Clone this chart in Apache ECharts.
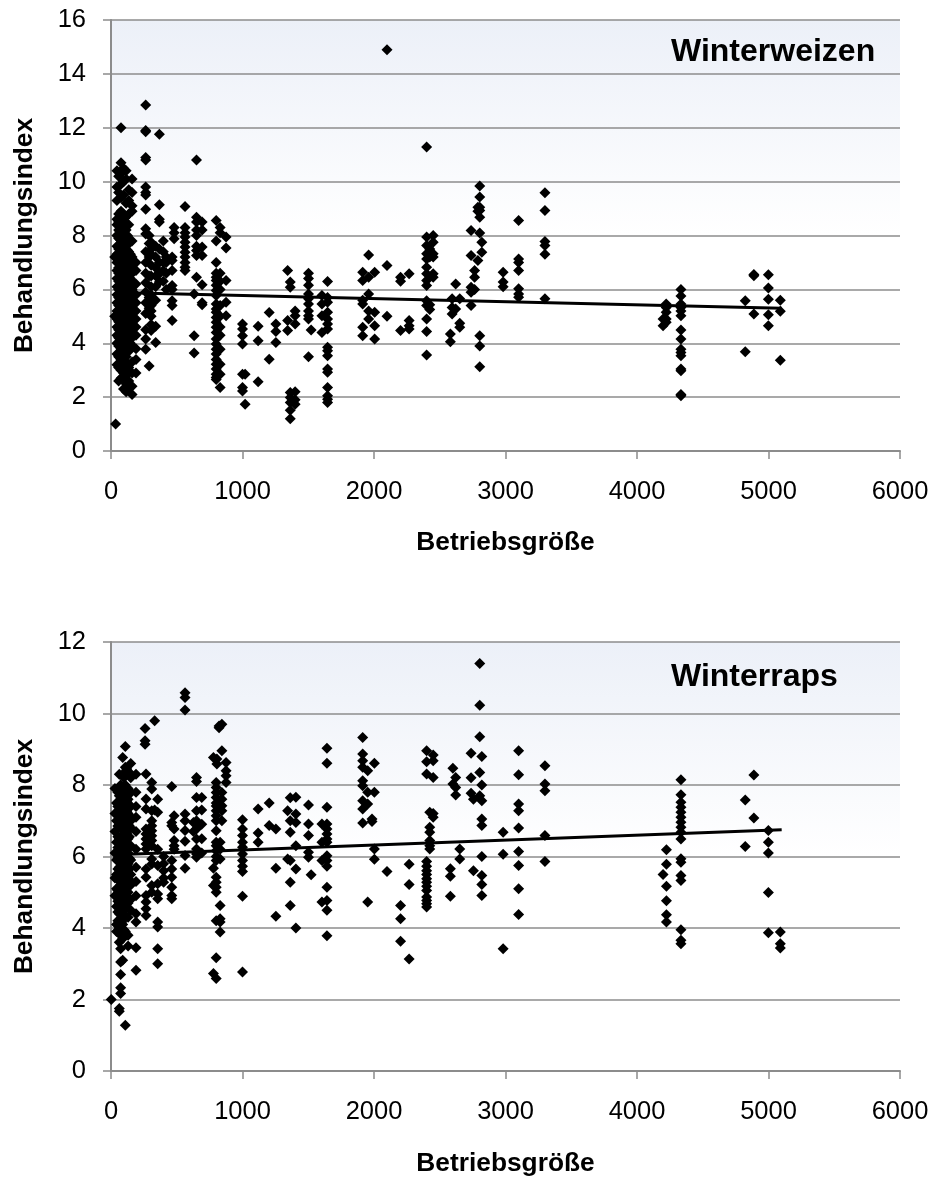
<!DOCTYPE html>
<html><head><meta charset="utf-8">
<script src="https://cdn.jsdelivr.net/npm/echarts@6/dist/echarts.min.js"></script>
<style>html,body{margin:0;background:#fff}#c{width:933px;height:1178px}</style></head>
<body><div id="c"></div>
<script>
const xTicks = [0,1000,2000,3000,4000,5000,6000];
const weizenTrend = [[40,5.88],[5100,5.3]];
const rapsTrend = [[30,6.05],[5100,6.75]];
const weizenSpalten = [
[35,[1.0]],
[28,[7.2,5.0]],
[45,[10.4,9.8,9.3,8.6,8.4,8.0,7.6,7.3,7.0,6.7,6.4,6.1,5.8,5.5,5.2,4.9,4.6,4.3,4.0,3.6,3.2]],
[58,[10.2,9.6,8.8,8.5,8.2,7.9,7.5,7.1,6.8,6.6,6.3,6.0,5.7,5.4,5.1,4.8,4.5,4.2,3.9,3.5,3.1,2.6]],
[68,[8.6,8.15,7.85,7.55,7.25,6.95,6.65,6.35,6.05,5.75,5.45,5.15,4.85,4.55,4.25,3.95,3.65,3.25]],
[76,[12.0,10.7,10.3,9.9,9.4,8.9,8.7,8.3,8.0,7.7,7.4,7.1,6.8,6.5,6.2,5.9,5.6,5.3,5.0,4.7,4.4,4.1,3.8,3.4,3.0,2.7]],
[85,[8.75,8.35,8.05,7.65,7.35,7.05,6.75,6.45,6.15,5.85,5.55,5.25,4.95,4.65,4.35,4.05,3.75,3.45,3.1]],
[95,[10.5,10.0,9.5,8.8,8.5,8.1,7.8,7.5,7.2,6.9,6.6,6.3,6.0,5.7,5.4,5.1,4.8,4.5,4.2,3.9,3.6,3.3,2.9,2.3]],
[105,[8.65,8.3,7.95,7.65,7.35,7.05,6.75,6.45,6.15,5.85,5.55,5.25,4.95,4.65,4.35,4.05,3.35,3.0,2.6]],
[115,[10.4,10.1,9.2,8.7,8.2,7.9,7.6,7.3,7.0,6.7,6.4,6.1,5.8,5.5,5.2,4.9,4.6,4.3,4.0,3.5,3.2,2.8,2.5,2.2]],
[125,[8.0,7.75,7.45,7.15,6.85,6.55,6.25,5.95,5.65,5.35,5.05,4.75,4.45,4.15,3.85,3.0,2.4]],
[135,[9.7,9.3,8.8,8.4,7.7,7.4,7.1,6.8,6.5,6.2,5.9,5.6,5.3,5.0,4.7,4.4,4.1,3.7,3.1,2.6,2.3]],
[148,[7.3,7.0,6.7,6.4,6.1,5.8,5.5,5.2,4.9,4.6,4.3,4.0]],
[160,[10.1,9.6,9.1,8.9,7.8,7.2,6.9,6.6,6.3,6.0,5.7,5.4,5.1,4.8,4.5,4.2,3.9,3.3,2.9,2.4,2.1]],
[190,[7.0,6.7,6.2,5.8,5.5,5.2,4.9,4.6,4.3,3.8,3.4,2.9]],
[264,[12.84,11.9,11.85,10.9,10.8,9.8,9.6,9.5,8.97,8.25,8.06,7.4,7.0,6.6,6.25,5.9,5.5,5.1,4.5,4.16,3.78]],
[290,[3.16,8.0,7.7,7.2,6.5,5.7,5.3]],
[305,[7.75,7.5,7.3,6.9,6.5,6.1,5.8,5.4,5.2,5.0,4.7,4.47]],
[340,[7.6,7.2,6.8,6.5,6.1,5.6,4.63,4.03]],
[368,[11.76,9.14,8.6,8.5,7.5,6.58,6.27,7.0]],
[398,[7.8,7.4,7.0,6.7,6.3]],
[420,[7.0,7.2,6.6,6.0]],
[465,[7.2,7.07,6.7,6.14,6.0,5.58,5.4,4.84]],
[480,[8.3,8.1,7.88]],
[563,[9.08,8.3,8.1,7.94,7.75,7.57,7.38,7.2,7.0,6.82,6.7]],
[632,[5.83,4.28,3.64]],
[650,[10.8,8.68,8.5,8.2,8.0,7.6,7.44,7.26,6.45]],
[693,[8.5,8.2,7.57,7.26,6.17,5.5,5.43]],
[800,[8.56,7.8,7.0,6.6,6.45,6.33,6.15,5.96,5.77,5.46,5.27,5.15,4.96,4.78,4.59,4.4,4.16,3.97,3.78,3.6,3.4,3.22,3.04,2.85,2.73,2.65]],
[830,[8.3,8.1,6.6,6.3,6.0,5.4,5.0,4.6,4.3,3.78,3.22,2.85,2.36]],
[875,[7.94,7.54,6.33,5.52,5.02]],
[1000,[4.71,4.53,4.28,3.97,2.85,2.36,2.23]],
[1020,[2.85,1.74]],
[1119,[4.63,4.09,2.57]],
[1203,[5.14,3.41]],
[1254,[4.71,4.44,4.03]],
[1343,[6.7,4.84,4.47]],
[1363,[6.27,6.08,2.17,1.99,1.8,1.51,1.2]],
[1400,[5.2,5.02,4.71,2.2,1.9,1.74]],
[1502,[6.6,6.4,6.15,5.83,5.65,5.46,5.2,5.02,4.9,3.5]],
[1522,[4.49]],
[1604,[5.77,5.46,5.02,4.4]],
[1647,[6.29,5.7,5.52,5.15,4.9,4.71,4.53,3.85,3.72,3.54,3.04,2.92,2.36,2.05,1.92,1.8]],
[1914,[6.64,6.33,5.6,5.46,4.59,4.28]],
[1959,[7.28,6.45,5.83,5.2,4.9]],
[2005,[6.64,5.15,4.65,4.16]],
[2099,[14.9,6.89,5.0]],
[2202,[6.45,6.3,4.47]],
[2267,[6.58,4.84,4.65,4.53]],
[2400,[11.29,7.94,7.63,7.32,7.13,6.82,6.58,6.33,6.14,5.58,5.4,4.9,4.44,3.56]],
[2424,[7.5,7.2,5.43,5.25]],
[2450,[8.0,7.75,7.32,7.2,6.58,6.45]],
[2581,[4.34,4.06]],
[2594,[5.65,5.33,5.09]],
[2621,[6.2,5.27]],
[2652,[5.65,4.74,4.59]],
[2738,[8.19,7.26,6.08,5.89,5.4]],
[2765,[6.7,6.45,6.0]],
[2790,[9.05,8.9,7.07]],
[2804,[9.84,9.43,9.05,8.93,8.68,8.09,4.28,3.9,3.13]],
[2820,[7.75,7.38]],
[2982,[6.64,6.27,6.1]],
[3100,[8.56,7.13,7.0,6.7,6.02,5.83,5.71]],
[3300,[9.59,8.93,7.78,7.63,7.3,5.65]],
[4198,[4.65,4.9]],
[4222,[5.46,5.33,5.15,4.9,4.78]],
[4334,[6.0,5.75,5.46,5.33,5.2,5.02,4.49,4.16,3.78,3.66,3.54,3.04,2.98,2.1,2.05]],
[4823,[5.58,3.68]],
[4889,[6.51,6.55,5.09]],
[4999,[6.54,6.05,5.63,5.06,4.65]],
[5090,[5.6,5.19,3.37]]
];
const rapsSpalten = [
[2,[2.0]],
[30,[7.9,7.2,6.7,6.1,5.4,4.9]],
[42,[7.5,7.0,6.4,5.9,5.5,5.1,4.6,4.1,3.9]],
[52,[7.8,7.4,7.15,6.85,6.55,6.25,5.95,5.65,5.35,5.05,4.75,4.45,4.2]],
[63,[8.3,7.7,7.3,6.9,6.5,6.1,5.7,5.4,5.0,4.7,4.4,4.0,3.6,1.75,1.67]],
[73,[8.0,7.6,7.1,6.8,6.3,5.9,5.6,5.2,4.9,4.5,4.2,3.8,3.42,3.05,2.7,2.33,2.17]],
[80,[7.85,7.45,7.15,6.85,6.55,6.25,5.95,5.65,5.35,5.05,4.75,4.45,4.15,3.85]],
[89,[8.77,8.3,7.5,7.2,6.9,6.6,6.2,5.8,5.5,5.1,4.8,4.4,4.1,3.7,3.1]],
[98,[8.2,7.85,7.55,7.25,6.95,6.65,6.35,6.05,5.75,5.45,5.15,4.85,4.55,4.25,3.95]],
[109,[9.08,8.5,8.0,7.7,7.4,7.0,6.7,6.4,6.0,5.6,5.3,4.9,4.6,4.3,3.9,1.28]],
[120,[8.45,7.85,7.55,7.25,6.95,6.65,6.35,6.05,5.75,5.45,5.15,4.85,4.55]],
[130,[8.3,7.9,7.6,7.2,6.9,6.5,6.1,5.8,5.4,5.0,4.7,4.3,3.8,3.5]],
[140,[8.35,7.75,7.45,7.15,6.85,6.55,6.25,5.95,5.65,5.35]],
[150,[8.6,8.2,7.8,7.4,7.0,6.8,6.3,5.9,5.5,5.2,4.8,4.5]],
[190,[8.3,7.8,7.4,7.1,6.7,6.2,5.7,5.3,4.9,4.4,4.17,3.45,2.82]],
[259,[9.58,9.24,9.14]],
[266,[8.31,7.61,7.33,6.77,6.63,6.49,6.35,6.21,5.65,5.42,4.91,4.73,4.54,4.35]],
[310,[8.07,7.89,7.28,7.0,6.86,6.72,6.58,6.45,6.3,5.93,5.79,5.19,5.0]],
[332,[9.8,7.3]],
[355,[7.6,7.24,6.2,5.75,5.24,4.95,4.82,4.17,4.03,3.42,3.0]],
[400,[6.0,5.8,5.6,5.4,5.28]],
[462,[7.96,6.95,6.86,5.89,5.65,5.42,5.14,4.91,4.82]],
[480,[7.14,6.77,6.45,6.3,6.2]],
[563,[10.58,10.45,10.1,7.19,7.0,6.73,6.43,6.03,5.67]],
[627,[6.95,6.7]],
[650,[8.21,8.1,7.65,7.28,7.0,6.77,6.49,6.21,6.07,5.98]],
[690,[7.65,7.3,6.9,6.5,6.1]],
[779,[8.77,5.67,5.19,2.73]],
[800,[8.07,7.93,7.79,7.65,7.5,7.41,7.28,7.14,7.0,6.72,6.4,6.3,6.16,6.0,5.89,5.42,5.28,5.14,5.0,4.2,3.17,2.59]],
[805,[8.73,8.59]],
[822,[9.6,9.65]],
[830,[6.4,6.2,5.93,4.63,4.26,4.17,3.89]],
[843,[9.7,8.96,7.79,7.6,7.42,7.28,7.0]],
[875,[8.63,8.4,8.26,8.07]],
[1000,[7.03,6.77,6.59,6.4,6.26,6.07,5.89,5.73,5.58,4.89,2.77]],
[1119,[7.33,6.66,6.4]],
[1203,[7.5,6.87]],
[1254,[6.77,5.67,4.33]],
[1343,[7.28,5.93]],
[1363,[7.64,7.0,6.68,5.89,5.28,4.63]],
[1406,[7.66,7.19,6.95,6.3,5.65,4.0]],
[1502,[7.44,6.91,6.59,6.12,5.98]],
[1522,[5.49]],
[1604,[6.91,6.4,5.89,4.73]],
[1642,[9.03,8.61,7.38,6.91,6.77,6.63,6.49,6.4,6.02,5.89,5.73,5.14,4.77,4.5,3.78]],
[1914,[9.33,8.87,8.68,8.5,8.12,7.98,7.56,7.33,6.94]],
[1952,[8.4,7.8,7.47,4.73]],
[1985,[7.05,6.98]],
[2003,[8.61,7.8,6.21,5.92]],
[2099,[5.58]],
[2202,[4.63,4.26,3.63]],
[2267,[5.78,5.22,3.13]],
[2400,[8.96,8.65,8.31,5.86,5.73,5.6,5.5,5.38,5.28,5.17,5.05,4.87,4.77,4.68,4.59]],
[2424,[7.24,6.82,6.68,6.45,6.3,6.21]],
[2450,[7.2,7.1,8.84,8.68,8.21]],
[2581,[5.66,5.45,4.89]],
[2600,[8.47,8.03]],
[2621,[8.21,7.93,7.72]],
[2652,[6.21,5.93]],
[2738,[8.89,8.2,7.77]],
[2756,[7.6,5.6]],
[2804,[11.4,10.23,9.35,8.35,7.7]],
[2820,[8.8,8.0,7.56,7.05,6.87,6.0,5.47,5.22,4.91]],
[2982,[6.68,6.06,3.42]],
[3100,[8.96,8.29,7.47,7.28,6.8,6.14,5.75,5.1,4.38]],
[3300,[8.54,8.03,7.84,6.59,5.86]],
[4198,[5.5]],
[4224,[6.19,5.78,5.17,4.76,4.37,4.17]],
[4334,[8.15,7.73,7.52,7.38,7.24,7.1,6.96,6.82,6.68,6.49,5.94,5.84,5.47,5.33,3.95,3.66,3.56]],
[4823,[7.58,6.28]],
[4889,[8.28,7.08]],
[4999,[6.73,6.4,6.1,4.99,3.87]],
[5090,[3.89,3.56,3.44]]
];
function punkte(spalten){const r=[];spalten.forEach(([x,ys])=>ys.forEach(y=>r.push([x,y])));return r;}
const font='"Liberation Sans",Arial,sans-serif', gray='#8c8c8c';
const bg={type:'linear',x:0,y:0,x2:0,y2:1,colorStops:[{offset:0,color:'#ecf0f8'},{offset:0.5,color:'#ffffff'},{offset:1,color:'#ffffff'}]};
function xAx(i,gap){return {gridIndex:i,type:'value',min:0,max:6000,interval:1000,
  name:'Betriebsgröße',nameLocation:'middle',nameGap:gap,nameTextStyle:{fontFamily:font,fontWeight:'bold',fontSize:26.3,color:'#000'},
  axisLine:{show:true,lineStyle:{color:gray,width:2}},axisTick:{show:true,length:8,lineStyle:{color:gray,width:1.5}},
  axisLabel:{fontFamily:font,fontSize:25.5,color:'#000',margin:28,showMinLabel:true,showMaxLabel:true,formatter:v=>String(xTicks[v/1000])},splitLine:{show:false}};}
function yAx(i,max){return {gridIndex:i,type:'value',min:0,max:max,interval:2,
  name:'Behandlungsindex',nameLocation:'middle',nameGap:73,nameTextStyle:{fontFamily:font,fontWeight:'bold',fontSize:26.3,color:'#000'},
  axisLine:{show:true,onZero:false,lineStyle:{color:gray,width:2}},axisTick:{show:true,length:8,lineStyle:{color:gray,width:1.5}},
  axisLabel:{fontFamily:font,fontSize:25.5,color:'#000',margin:25,showMaxLabel:true},
  splitLine:{show:true,lineStyle:{color:gray,width:1.6}}};}
function scat(i,d){return {type:'scatter',xAxisIndex:i,yAxisIndex:i,data:d,symbol:'diamond',symbolSize:11,itemStyle:{color:'#000',opacity:1},silent:true,animation:false,z:3};}
function trend(i,d){return {type:'line',xAxisIndex:i,yAxisIndex:i,data:d,symbol:'none',lineStyle:{color:'#000',width:3},silent:true,animation:false,z:4};}
const chart=echarts.init(document.getElementById('c'),null,{renderer:'canvas'});
chart.setOption({
  animation:false,backgroundColor:'#fff',
  title:[
   {text:'Winterweizen',left:666,top:31,textStyle:{fontFamily:font,fontWeight:'bold',fontSize:32,color:'#000'}},
   {text:'Winterraps',left:666,top:656,textStyle:{fontFamily:font,fontWeight:'bold',fontSize:32,color:'#000'}}
  ],
  grid:[
   {left:111,top:20,width:789,height:431,show:true,backgroundColor:bg,borderWidth:0},
   {left:111,top:642,width:789,height:431,show:true,backgroundColor:bg,borderWidth:0}
  ],
  xAxis:[xAx(0,79),xAx(1,80)],
  yAxis:[yAx(0,16),yAx(1,12)],
  series:[scat(0,punkte(weizenSpalten)),trend(0,weizenTrend),scat(1,punkte(rapsSpalten)),trend(1,rapsTrend)]
});
</script></body></html>
